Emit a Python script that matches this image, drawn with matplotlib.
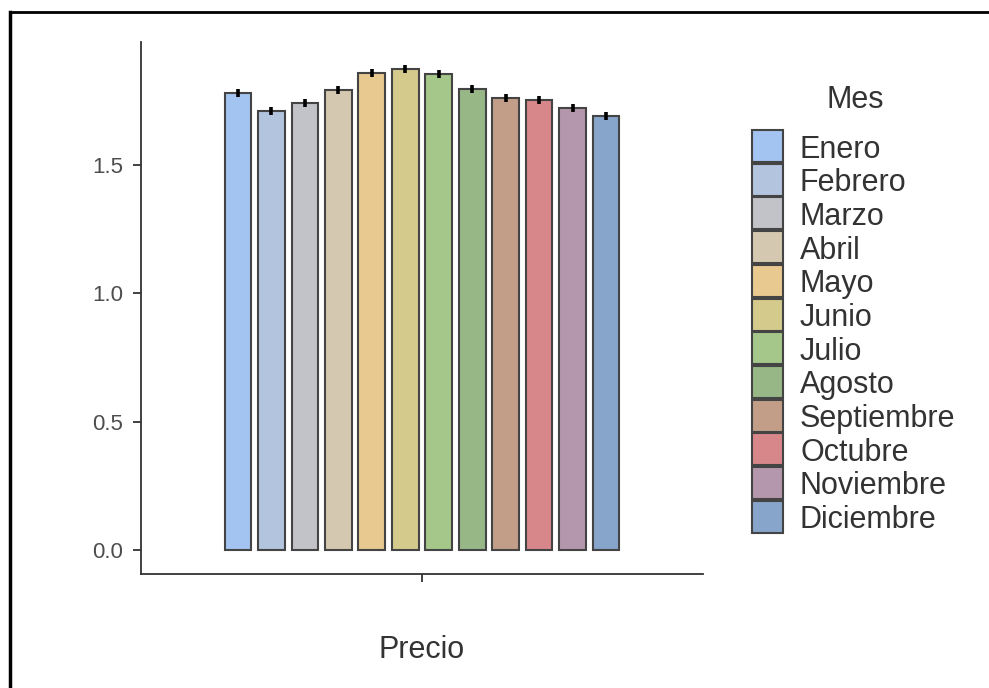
import matplotlib.pyplot as plt
from matplotlib.lines import Line2D
from matplotlib.patches import Rectangle
import numpy as np

plt.rcParams['font.family'] = ['Liberation Sans', 'DejaVu Sans']

meses = ['Enero', 'Febrero', 'Marzo', 'Abril', 'Mayo', 'Junio', 'Julio',
         'Agosto', 'Septiembre', 'Octubre', 'Noviembre', 'Diciembre']
precio = [1.780, 1.710, 1.741, 1.792, 1.858, 1.874, 1.854,
          1.796, 1.761, 1.753, 1.722, 1.691]
error = [0.014, 0.014, 0.014, 0.014, 0.014, 0.014, 0.014,
         0.014, 0.014, 0.014, 0.014, 0.014]
colores = ['#A3C4F0', '#B3C4DE', '#C2C3C8', '#D5C8B0', '#E8C990', '#D4CA8C',
           '#A5C78A', '#97B787', '#C29E88', '#D7868A', '#B497AC', '#87A5CB']

W, H = 989, 688
fig = plt.figure(figsize=(W / 100, H / 100), dpi=100)
ax = fig.add_axes([141 / W, 1 - 574 / H, (703 - 141) / W, (574 - 42) / H])

x = np.arange(len(meses))
ax.bar(x, precio, width=0.8, color=colores, edgecolor='#444444',
       linewidth=1.5, zorder=2)
ax.errorbar(x, precio, yerr=error, fmt='none', ecolor='black',
            elinewidth=2.6, capsize=0, zorder=3)

ax.set_xlim(-2.9, 13.9)
ax.set_ylim(-0.0935, 1.979)
ax.set_xticks([5.5])
ax.set_xticklabels([''])
ax.set_yticks([0.0, 0.5, 1.0, 1.5])
ax.set_yticklabels(['0.0', '0.5', '1.0', '1.5'])
ax.tick_params(axis='both', colors='#333333', labelcolor='#4d4d4d',
               labelsize=16, length=5.8, width=1.3, pad=7)
for lado in ['top', 'right']:
    ax.spines[lado].set_visible(False)
for lado in ['left', 'bottom']:
    ax.spines[lado].set_color('#333333')
    ax.spines[lado].set_linewidth(1.3)

fig.text(422 / W, 1 - 650 / H, 'Precio', ha='center', va='center',
         fontsize=22, color='#333333')

# leyenda dibujada a mano
fig.text(855 / W, 1 - 100 / H, 'Mes', ha='center', va='center',
         fontsize=22, color='#333333')
paso = 33.7
for i, (mes, col) in enumerate(zip(meses, colores)):
    top = 130 + i * paso
    fig.add_artist(Rectangle((752 / W, 1 - (top + 32) / H), 31 / W, 32 / H,
                             facecolor=col, edgecolor='#444444',
                             linewidth=1.5, transform=fig.transFigure))
    fig.text(800 / W, 1 - (top + 16) / H, mes, ha='left', va='center_baseline',
             fontsize=22, color='#333333')

# marco del recorte
fig.add_artist(Line2D([10 / W, 1], [1 - 12 / H, 1 - 12 / H],
                      color='black', linewidth=2))
fig.add_artist(Line2D([10 / W, 10 / W], [0, 1 - 12 / H],
                      color='black', linewidth=2.5))

fig.savefig('out.png', dpi=100)
